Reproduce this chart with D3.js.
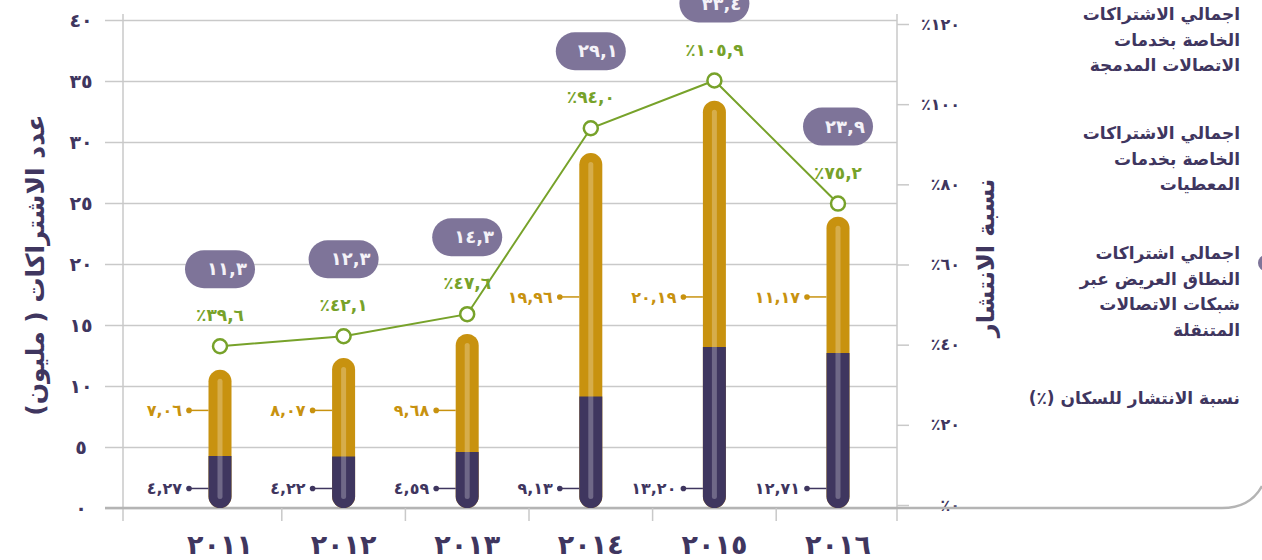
<!DOCTYPE html>
<html>
<head>
<meta charset="utf-8">
<script src="https://cdn.jsdelivr.net/npm/d3@7"></script>
<style>
  html, body { margin: 0; padding: 0; background: #ffffff; }
  svg { display: block; }
  text { font-family: "DejaVu Sans", "Noto Sans", sans-serif; }
</style>
</head>
<body>
<svg id="chart" width="1262" height="560"></svg>
<script>
// ---------------- data ----------------
const years = ["٢٠١١", "٢٠١٢", "٢٠١٣", "٢٠١٤", "٢٠١٥", "٢٠١٦"];
const mobileBroadband = [4.27, 4.22, 4.59, 9.13, 13.20, 12.71];   // purple segment
const dataSubs = [7.06, 8.07, 9.68, 19.96, 20.19, 11.17];          // gold segment
const integratedTotal = [11.3, 12.3, 14.3, 29.1, 33.4, 23.9];      // pill labels
const penetration = [39.6, 42.1, 47.6, 94.0, 105.9, 75.2];         // line (%)
const leftTicks = [0, 5, 10, 15, 20, 25, 30, 35, 40];
const rightTicks = [0, 20, 40, 60, 80, 100, 120];
const leftTitle = "عدد الاشتراكات ( مليون)";
const rightTitle = "نسبة الانتشار";
const legendItems = [
  ["اجمالي الاشتراكات", "الخاصة بخدمات", "الاتصالات المدمجة"],
  ["اجمالي الاشتراكات", "الخاصة بخدمات", "المعطيات"],
  ["اجمالي اشتراكات", "النطاق العريض عبر", "شبكات الاتصالات", "المتنقلة"],
  ["نسبة الانتشار للسكان (٪)"]
];

// ---------------- helpers ----------------
const arDigits = "٠١٢٣٤٥٦٧٨٩";
function toAr(s) { return String(s).replace(/[0-9]/g, c => arDigits[+c]).replace(".", ","); }
function fmt(v, d) { return toAr(v.toFixed(d)); }

const C = {
  purple: "#3F365F",
  gold: "#C8920F",
  green: "#77A22A",
  pill: "#7E7499",
  grid: "#C9C9C9",
  axis: "#B4B4B4",
  text: "#3F365F"
};

const svg = d3.select("#chart");
const X0 = 123, X1 = 897;

const x = d3.scalePoint().domain(years).range([220, 838]);
const y = d3.scaleLinear().domain([0, 40]).range([508, 20]);
const yR = d3.scaleLinear().domain([0, 120]).range([505, 24]);

const rows = years.map((yr, i) => ({
  year: yr, purple: mobileBroadband[i], gold: dataSubs[i],
  total: mobileBroadband[i] + dataSubs[i], label: integratedTotal[i], pen: penetration[i]
}));

// ---------------- left axis + grid ----------------
const gL = svg.append("g").attr("transform", `translate(${X0},0)`)
  .call(d3.axisLeft(y).tickValues(leftTicks).tickSizeInner(-(X1 - X0)).tickSizeOuter(0).tickFormat(d => toAr(d)));
gL.select(".domain").remove();
gL.selectAll(".tick line").attr("x1", -18).attr("stroke", C.grid).attr("stroke-width", 1.5);
gL.selectAll(".tick text").attr("x", -42).attr("dy", "0.35em").attr("text-anchor", "middle")
  .attr("fill", C.text).style("font-size", "19px").style("font-weight", "bold");

// vertical axis lines
svg.append("line").attr("x1", X0).attr("x2", X0).attr("y1", 14).attr("y2", 521)
  .attr("stroke", C.grid).attr("stroke-width", 1.5);
svg.append("line").attr("x1", X1).attr("x2", X1).attr("y1", 14).attr("y2", 521)
  .attr("stroke", C.grid).attr("stroke-width", 1.5);

// ---------------- right axis ----------------
const gR = svg.append("g").attr("transform", `translate(${X1},0)`)
  .call(d3.axisRight(yR).tickValues(rightTicks).tickSizeInner(12).tickSizeOuter(0).tickFormat(d => "٪" + toAr(d)));
gR.select(".domain").remove();
gR.selectAll(".tick line").attr("stroke", C.grid).attr("stroke-width", 1.5);
gR.selectAll(".tick text").attr("x", 63).attr("text-anchor", "end")
  .attr("fill", C.text).style("font-size", "16px").style("font-weight", "bold");

// ---------------- baseline & frame curve ----------------
svg.append("path")
  .attr("d", `M105,${y(0)} H1222 Q1250,${y(0)} 1262,${y(0) - 22}`)
  .attr("fill", "none").attr("stroke", C.axis).attr("stroke-width", 2.5);

// category separators
const step = x.step();
const seps = years.slice(0, -1).map(yr => x(yr) + step / 2);
svg.selectAll(".sep").data(seps).enter().append("line")
  .attr("x1", d => d).attr("x2", d => d).attr("y1", y(0)).attr("y2", y(0) + 13)
  .attr("stroke", C.grid).attr("stroke-width", 1.5);

// year labels
svg.selectAll(".year").data(years).enter().append("text")
  .attr("x", d => x(d)).attr("y", 554).attr("text-anchor", "middle")
  .attr("fill", C.text).style("font-size", "27px").style("font-weight", "bold")
  .text(d => d);

// ---------------- bars ----------------
const BW = 23, R = BW / 2;
const bars = svg.selectAll(".bar").data(rows).enter().append("g");
bars.append("rect")
  .attr("x", d => x(d.year) - R).attr("width", BW)
  .attr("y", d => y(d.total)).attr("height", d => y(0) - y(d.total))
  .attr("rx", R).attr("fill", C.gold);
bars.append("path")
  .attr("d", d => {
    const cx = x(d.year), top = y(d.purple), bot = y(0);
    return `M${cx - R},${top} H${cx + R} V${bot - R} A${R},${R} 0 0 1 ${cx - R},${bot - R} Z`;
  })
  .attr("fill", C.purple);
bars.append("rect")
  .attr("x", d => x(d.year) - 2.5).attr("width", 5)
  .attr("y", d => y(d.total) + 9).attr("height", d => y(0) - y(d.total) - 18)
  .attr("rx", 2.5).attr("fill", "#ffffff").attr("opacity", 0.25);

// value labels with leaders
function leader(sel, yv, color, getText) {
  sel.append("line")
    .attr("x1", d => x(d.year) - 31).attr("x2", d => x(d.year) - R)
    .attr("y1", yv).attr("y2", yv).attr("stroke", color).attr("stroke-width", 1.5);
  sel.append("circle")
    .attr("cx", d => x(d.year) - 31).attr("cy", yv).attr("r", 2.8).attr("fill", color);
  sel.append("text")
    .attr("x", d => x(d.year) - 38).attr("y", yv).attr("dy", "0.36em")
    .attr("text-anchor", "end").attr("fill", color)
    .style("font-size", "16px").style("font-weight", "bold")
    .text(getText);
}
leader(bars, d => y(1.6), C.purple, d => fmt(d.purple, 2));
leader(bars, d => y(d.total < 20 ? 8 : 17.3), C.gold, d => fmt(d.gold, 2));

// ---------------- line ----------------
const line = d3.line().x(d => x(d.year)).y(d => yR(d.pen));
svg.append("path").datum(rows).attr("d", line)
  .attr("fill", "none").attr("stroke", C.green).attr("stroke-width", 2);
svg.selectAll(".pt").data(rows).enter().append("circle")
  .attr("cx", d => x(d.year)).attr("cy", d => yR(d.pen)).attr("r", 7)
  .attr("fill", "#ffffff").attr("stroke", C.green).attr("stroke-width", 2.5);
svg.selectAll(".pl").data(rows).enter().append("text")
  .attr("x", d => x(d.year)).attr("y", d => yR(d.pen) - 25).attr("text-anchor", "middle")
  .attr("fill", C.green).style("font-size", "17px").style("font-weight", "bold")
  .text(d => "٪" + fmt(d.pen, 1));

// total pills
const pills = svg.selectAll(".pill").data(rows).enter().append("g")
  .attr("transform", d => `translate(${x(d.year)},${yR(d.pen) - 77})`);
pills.append("rect").attr("x", -35).attr("y", -19).attr("width", 70).attr("height", 38)
  .attr("rx", 19).attr("fill", C.pill);
pills.append("text").attr("x", 7).attr("y", 6).attr("text-anchor", "middle")
  .attr("fill", "#F4F2F8").style("font-size", "18px").style("font-weight", "bold")
  .text(d => fmt(d.label, 1));

// ---------------- axis titles ----------------
svg.append("text").attr("transform", "translate(44,265) rotate(-90)")
  .attr("text-anchor", "middle").attr("direction", "rtl")
  .attr("fill", C.text).style("font-size", "25px").style("font-weight", "bold")
  .text(leftTitle);
svg.append("text").attr("transform", "translate(994,258) rotate(-90)")
  .attr("text-anchor", "middle").attr("direction", "rtl")
  .attr("fill", C.text).style("font-size", "24px").style("font-weight", "bold")
  .text(rightTitle);

// ---------------- legend ----------------
const legendTop = [20, 139, 259, 404];
legendItems.forEach((lines, i) => {
  const t = svg.append("text").attr("direction", "rtl").attr("text-anchor", "start")
    .attr("fill", C.text).style("font-size", "17px").style("font-weight", "bold");
  lines.forEach((ln, j) => {
    t.append("tspan").attr("x", 1240).attr("y", legendTop[i] + j * 25.5).text(ln);
  });
});
svg.append("circle").attr("cx", 1266).attr("cy", 263).attr("r", 8).attr("fill", C.pill);
</script>
</body>
</html>
